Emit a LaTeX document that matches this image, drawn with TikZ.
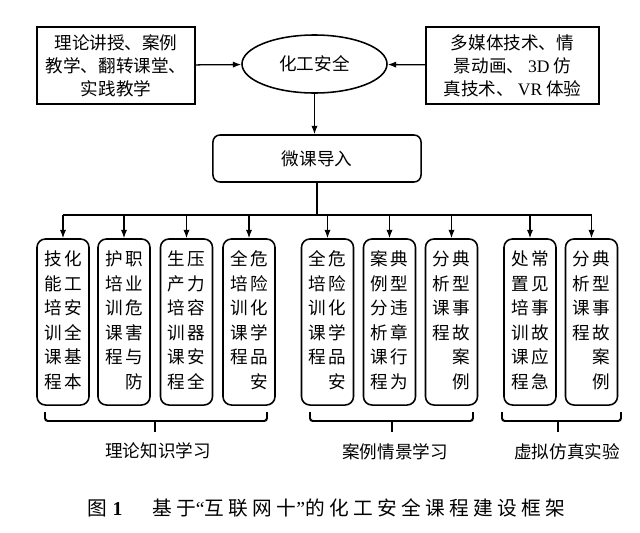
\documentclass[tikz,border=0pt]{standalone}
\usepackage{fontspec}
\setmainfont{Noto Sans CJK SC}
\newfontfamily\latinfont{Liberation Serif}
\usetikzlibrary{shapes.geometric,arrows.meta}

\newcommand{\vtext}[1]{\begin{tabular}{@{}c@{\hspace{1.5pt}}c@{}}#1\end{tabular}}

\begin{document}
\begin{tikzpicture}[x=0.025cm,y=-0.025cm,
    topbox/.style={draw,line width=1.4pt,align=center,inner sep=0pt,
        font=\fontsize{12.5pt}{16.4pt}\selectfont},
    ovalnode/.style={draw,ellipse,line width=1.1pt,inner sep=0pt,
        minimum width=3.625cm,minimum height=1.45cm,font=\fontsize{12.5pt}{15pt}\selectfont},
    introbox/.style={draw,rounded corners=5pt,line width=1.1pt,inner sep=0pt,
        minimum width=5.2cm,minimum height=1.175cm,font=\fontsize{12.5pt}{15pt}\selectfont},
    coursebox/.style={draw,rounded corners=6pt,line width=1.1pt,inner sep=0pt,
        minimum width=1.3cm,minimum height=4.15cm,font=\fontsize{12.5pt}{17.4pt}\selectfont},
    arr/.style={line width=0.9pt,-{Latex[length=6pt,width=4.5pt]}},
    link/.style={line width=0.9pt},
    brk/.style={line width=1.4pt,rounded corners=2pt},
    lbl/.style={font=\fontsize{12.5pt}{15pt}\selectfont}]
        \useasboundingbox (0,0) rectangle (640,533);

        \node[topbox,minimum width=3.95cm,minimum height=1.925cm] (methods) at (116,65.5)
            {理论讲授、案例\\教学、翻转课堂、\\实践教学};
        \node[ovalnode] (safety) at (314.5,64) {化工安全};
        \node[topbox,minimum width=4.325cm,minimum height=1.925cm] (media) at (512.5,65.5)
            {多媒体技术、情\\景动画、 {\latinfont 3D} 仿\\真技术、 {\latinfont VR} 体验};
        \node[introbox] (micro) at (317,158.5) {微课导入};

        \draw[arr] (methods) -- (safety);
        \draw[arr] (media) -- (safety);
        \draw[arr] (safety.south) -- (safety.south |- micro.north);

        % course boxes
        \node[coursebox] (c1) at (63,322)
            {\vtext{技&化\\能&工\\培&安\\训&全\\课&基\\程&本}};
        \node[coursebox] (c2) at (124,322)
            {\vtext{护&职\\培&业\\训&危\\课&害\\程&与\\&防}};
        \node[coursebox] (c3) at (186.5,322)
            {\vtext{生&压\\产&力\\培&容\\训&器\\课&安\\程&全}};
        \node[coursebox] (c4) at (249,322)
            {\vtext{全&危\\培&险\\训&化\\课&学\\程&品\\&安}};
        \node[coursebox] (c5) at (327.5,322)
            {\vtext{全&危\\培&险\\训&化\\课&学\\程&品\\&安}};
        \node[coursebox] (c6) at (389.5,322)
            {\vtext{案&典\\例&型\\分&违\\析&章\\课&行\\程&为}};
        \node[coursebox] (c7) at (451.5,322)
            {\vtext{分&典\\析&型\\课&事\\程&故\\&案\\&例}};
        \node[coursebox] (c8) at (530,322)
            {\vtext{处&常\\置&见\\培&事\\训&故\\课&应\\程&急}};
        \node[coursebox] (c9) at (591.5,322)
            {\vtext{分&典\\析&型\\课&事\\程&故\\&案\\&例}};

        \coordinate (bus) at (316,215);
        \draw[link] (micro.south) -- (micro.south |- bus);
        \draw[link] (c1.north |- bus) -- (c9.north |- bus);
        \draw[arr] (c1.north |- bus) -- (c1.north);
        \draw[arr] (c2.north |- bus) -- (c2.north);
        \draw[arr] (c3.north |- bus) -- (c3.north);
        \draw[arr] (c4.north |- bus) -- (c4.north);
        \draw[arr] (c5.north |- bus) -- (c5.north);
        \draw[arr] (c6.north |- bus) -- (c6.north);
        \draw[arr] (c7.north |- bus) -- (c7.north);
        \draw[arr] (c8.north |- bus) -- (c8.north);
        \draw[arr] (c9.north |- bus) -- (c9.north);

        % group brackets
        \draw[brk] (45,412) -- (45,421) -- (267,421) -- (267,412);
        \draw[brk] (155,421) -- (155,432);
        \draw[brk] (310,412) -- (310,421) -- (473,421) -- (473,412);
        \draw[brk] (392,421) -- (392,432);
        \draw[brk] (502,412) -- (502,421) -- (621,421) -- (621,412);
        \draw[brk] (558,421) -- (558,432);

        \node[lbl] (theory) at (158,451) {理论知识学习};
        \node[lbl] (cases) at (395,452) {案例情景学习};
        \node[lbl] (virtual) at (567,452) {虚拟仿真实验};

        \node[font=\fontsize{14pt}{16pt}\selectfont] (caption) at (326,508)
            {图\hspace{0.3em}{\latinfont\bfseries 1}\hspace{1.5em}{\addfontfeature{LetterSpace=22}基于{\latinfont “}互联网十{\latinfont ”}的化工安全课程建设框架}};
\end{tikzpicture}
\end{document}
